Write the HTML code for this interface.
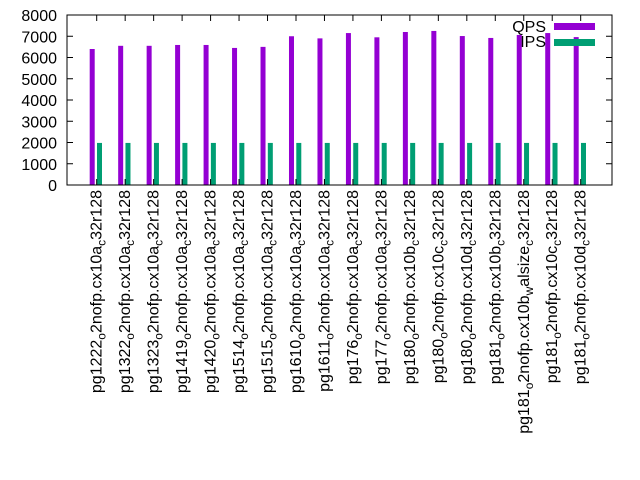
<!DOCTYPE html>
<html><head><meta charset="utf-8"><style>
html,body{margin:0;padding:0;background:#fff;}
svg{display:block;font-family:"Liberation Sans",sans-serif;}
</style></head><body>
<svg id="chart" width="640" height="480"></svg>
<script>
const categories=[
 ["pg1222","o","2nofp.cx10a","c","32r128"],
 ["pg1322","o","2nofp.cx10a","c","32r128"],
 ["pg1323","o","2nofp.cx10a","c","32r128"],
 ["pg1419","o","2nofp.cx10a","c","32r128"],
 ["pg1420","o","2nofp.cx10a","c","32r128"],
 ["pg1514","o","2nofp.cx10a","c","32r128"],
 ["pg1515","o","2nofp.cx10a","c","32r128"],
 ["pg1610","o","2nofp.cx10a","c","32r128"],
 ["pg1611","o","2nofp.cx10a","c","32r128"],
 ["pg176","o","2nofp.cx10a","c","32r128"],
 ["pg177","o","2nofp.cx10a","c","32r128"],
 ["pg180","o","2nofp.cx10b","c","32r128"],
 ["pg180","o","2nofp.cx10c","c","32r128"],
 ["pg180","o","2nofp.cx10d","c","32r128"],
 ["pg181","o","2nofp.cx10b","c","32r128"],
 ["pg181","o","2nofp.cx10b","w","alsize","c","32r128"],
 ["pg181","o","2nofp.cx10c","c","32r128"],
 ["pg181","o","2nofp.cx10d","c","32r128"]
];
const qps=[6400,6550,6550,6590,6590,6450,6500,7000,6900,7150,6950,7200,7250,7010,6920,7060,7150,6960];
const ips=[1980,1980,1980,1980,1980,1980,1980,1980,1980,1980,1980,1980,1980,1980,1980,1980,1980,1980];
const yTicks=[0,1000,2000,3000,4000,5000,6000,7000,8000];

const NS="http://www.w3.org/2000/svg";
const svg=document.getElementById('chart');
const L=67,R=612,T=15,B=185,YMAX=8000;
const y=v=>B-(v/YMAX)*(B-T);
const x=i=>96.7+i*28.47;
function mk(tag,attrs,parent){const e=document.createElementNS(NS,tag);for(const k in attrs)e.setAttribute(k,attrs[k]);(parent||svg).appendChild(e);return e;}

// y ticks
yTicks.forEach(v=>{
 const g=mk('g',{});
 
 
 mk('line',{x1:L,x2:L+6,y1:y(v),y2:y(v),stroke:'#000','stroke-width':1},g);
 mk('line',{x1:R,x2:R-6,y1:y(v),y2:y(v),stroke:'#000','stroke-width':1},g);
 const t=mk('text',{x:57,y:y(v)+6,'text-anchor':'end','font-size':16,fill:'#000'},g);
 t.textContent=v;
});

// bars
categories.forEach((c,i)=>{
 const b1=mk('rect',{x:x(i)-7,y:y(qps[i]),width:5,height:B-y(qps[i]),fill:'#9400d3'});
 
 
 const b2=mk('rect',{x:x(i)+0.3,y:y(ips[i]),width:5,height:B-y(ips[i]),fill:'#009e73'});
 
 
 mk('line',{x1:x(i),x2:x(i),y1:B,y2:B-6,stroke:'#000'});
 mk('line',{x1:x(i),x2:x(i),y1:T,y2:T+6,stroke:'#000'});
 const t=mk('text',{transform:`translate(${x(i)+5},190) rotate(-90)`,'text-anchor':'end','font-size':16,fill:'#000'});
 
 
 c.forEach((s,j)=>{
  const sub=j%2===1;
  const ts=mk('tspan',{},t);
  if(sub){ts.setAttribute('font-size',12);ts.setAttribute('dy',4);}
  else if(j>0){ts.setAttribute('dy',-4);}
  ts.textContent=s;
 });
});

// frame
const fr=mk('rect',{x:L,y:T,width:R-L,height:B-T,fill:'none',stroke:'#000','stroke-width':1});



// legend
const lg=mk('g',{});


const t1=mk('text',{x:546,y:32,'text-anchor':'end','font-size':16},lg);t1.textContent='QPS';
mk('rect',{x:554,y:23,width:41,height:7,fill:'#9400d3'},lg);
const t2=mk('text',{x:546,y:47,'text-anchor':'end','font-size':16},lg);t2.textContent='IPS';
mk('rect',{x:554,y:39,width:41,height:7,fill:'#009e73'},lg);
</script>
</body></html>
